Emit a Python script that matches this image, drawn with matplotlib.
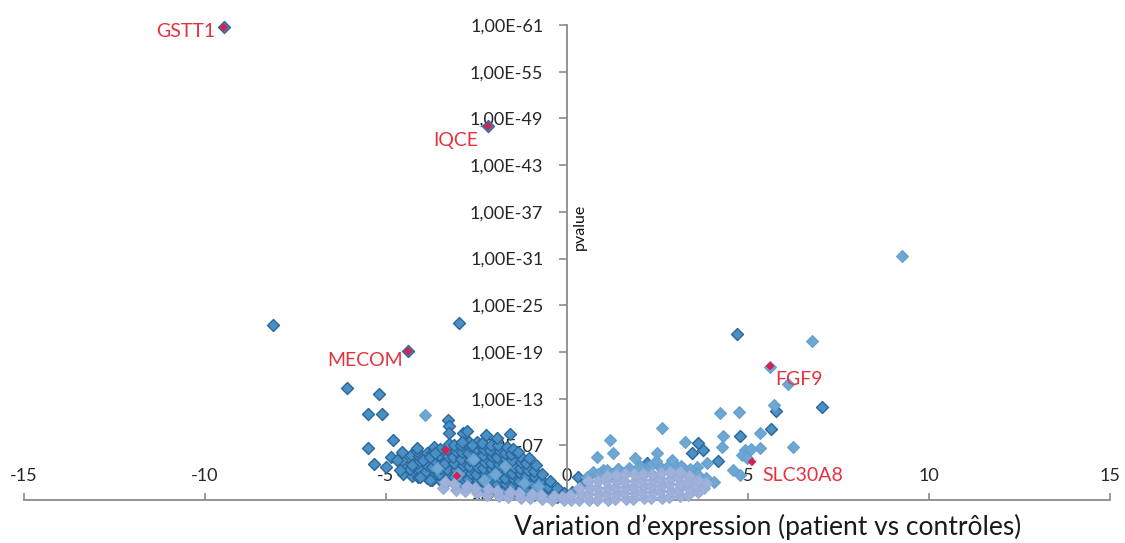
import numpy as np
import matplotlib.pyplot as plt
from matplotlib.ticker import FixedLocator, FuncFormatter, NullLocator

plt.rcParams['font.family'] = ['Lato', 'DejaVu Sans']
plt.rcParams['axes.unicode_minus'] = False

# log2 fold change (x) and -log10(pvalue) (e)
dark_x = [-9.48, -8.12, -2.18, -2.98, -4.39, -6.08, -5.19, -5.50, -5.11, -3.29,
          -3.26, -3.26, -2.87, -2.76, -2.90, -2.62, -2.24, -1.93, -1.57, -5.50,
          -4.81, -4.14, -4.56, -4.86, -4.70, -5.33, -5.00, -4.61, -4.28, -3.98,
          -3.78, -3.65, -4.06, -3.78,
          4.70, 5.77, 7.04, 5.64, 4.78, 3.45, 3.76, 4.17, 2.21, 3.67, 0.30, 3.62,
          0.15, 0.45]
dark_e = [60.7, 22.5, 48.0, 22.7, 19.1, 14.4, 13.6, 11.0, 11.0, 10.3,
          9.5, 8.6, 8.6, 8.9, 7.4, 7.1, 8.3, 8.0, 8.5, 6.7,
          7.7, 6.7, 6.2, 5.5, 5.1, 4.6, 4.2, 3.9, 4.5, 5.1,
          5.5, 6.0, 3.0, 2.6,
          21.3, 11.4, 11.9, 9.1, 8.2, 6.0, 6.4, 5.0, 4.7, 2.6, 3.0, 7.3,
          1.0, 2.2]

# dense left wing (dark edged diamonds), one column per group
blob_x = [[-4.52, -4.46, -4.55],
          [-4.27, -4.34, -4.24, -4.31],
          [-4.12, -4.05, -4.15, -4.08, -4.13],
          [-3.86, -3.93, -3.88, -3.95, -3.87],
          [-3.72, -3.66, -3.74, -3.68, -3.73, -3.67],
          [-3.47, -3.54, -3.49, -3.45, -3.53, -3.50],
          [-3.33, -3.27, -3.31, -3.36, -3.28, -3.32, -3.26],
          [-3.08, -3.13, -3.06, -3.11, -3.14, -3.07, -3.12],
          [-2.93, -2.87, -2.91, -2.86, -2.94, -2.89, -2.92, -2.88],
          [-2.68, -2.73, -2.66, -2.72, -2.69, -2.74, -2.67, -2.71],
          [-2.53, -2.47, -2.51, -2.46, -2.54, -2.49, -2.52, -2.48],
          [-2.28, -2.33, -2.27, -2.31, -2.26, -2.32, -2.29, -2.34],
          [-2.12, -2.07, -2.13, -2.08, -2.11, -2.06, -2.14, -2.09],
          [-1.88, -1.93, -1.87, -1.92, -1.89, -1.94, -1.86, -1.91],
          [-1.73, -1.68, -1.72, -1.66, -1.74, -1.69, -1.71, -1.67],
          [-1.48, -1.53, -1.47, -1.52, -1.46, -1.51, -1.54, -1.49],
          [-1.32, -1.27, -1.33, -1.28, -1.31, -1.26, -1.29, -1.34],
          [-1.08, -1.13, -1.07, -1.12, -1.09, -1.14, -1.06],
          [-0.92, -0.87, -0.93, -0.88, -0.91, -0.86],
          [-0.68, -0.73, -0.67, -0.72, -0.69],
          [-0.52, -0.47, -0.53, -0.48],
          [-0.28, -0.33, -0.27],
          [-0.12, -0.08]]
blob_e = [[3.4, 4.3, 5.2],
          [3.1, 4.0, 4.9, 5.8],
          [3.0, 3.8, 4.7, 5.6, 6.3],
          [2.8, 3.6, 4.5, 5.3, 6.1],
          [2.6, 3.5, 4.3, 5.2, 6.0, 6.8],
          [2.5, 3.3, 4.1, 5.0, 5.8, 6.6],
          [2.3, 3.1, 4.0, 4.8, 5.6, 6.5, 7.2],
          [2.2, 3.0, 3.8, 4.7, 5.5, 6.3, 7.1],
          [2.0, 2.8, 3.7, 4.5, 5.3, 6.2, 7.0, 7.6],
          [1.9, 2.7, 3.5, 4.4, 5.2, 6.0, 6.9, 7.5],
          [1.8, 2.6, 3.4, 4.2, 5.1, 5.9, 6.7, 7.4],
          [1.6, 2.4, 3.3, 4.1, 4.9, 5.8, 6.6, 7.3],
          [1.5, 2.3, 3.1, 4.0, 4.8, 5.6, 6.4, 7.1],
          [1.3, 2.1, 3.0, 3.8, 4.6, 5.5, 6.3, 7.0],
          [1.2, 2.0, 2.8, 3.7, 4.5, 5.3, 6.1, 6.8],
          [1.0, 1.8, 2.7, 3.5, 4.3, 5.1, 5.9, 6.5],
          [0.9, 1.7, 2.5, 3.3, 4.1, 4.9, 5.7, 6.2],
          [0.8, 1.5, 2.3, 3.1, 3.9, 4.7, 5.4],
          [0.7, 1.4, 2.1, 2.9, 3.7, 4.5],
          [0.6, 1.2, 1.9, 2.6, 3.4],
          [0.5, 1.1, 1.7, 2.4],
          [0.4, 1.0, 1.6],
          [0.2, 0.9]]

light_x = [-3.92, 9.25, 6.77, 5.61, 6.10, 4.23, 4.75, 5.72, 2.62, 4.31,
           5.33, 6.24, 1.19, 1.27, 3.26, 4.28, 4.92, 5.33, 4.83, 4.97,
           3.87, 4.59, 4.78, 2.49, 0.83, 1.88, 2.57, 2.93, 3.20, 3.45,
           0.72, 1.00, 1.42, 2.03, 3.03, 3.58, 5.08,
           0.55, 0.85, 1.10, 1.40, 1.70, 2.00, 2.30, 2.45, 2.75, 2.90,
           3.15, 3.40, 3.60, 3.85, 1.55, 2.20, 3.00, 1.25, 4.05,
           -3.00, -2.30, -1.70, -1.20, -2.60, -3.60, -0.80, -2.00]
light_e = [10.9, 31.3, 20.4, 17.1, 14.9, 11.2, 11.3, 12.2, 9.2, 8.2,
           8.6, 6.8, 7.7, 6.0, 7.4, 6.8, 6.4, 6.7, 5.8, 5.4,
           4.7, 3.9, 3.2, 6.0, 5.5, 5.4, 4.2, 4.7, 4.1, 3.5,
           3.6, 3.9, 4.0, 4.4, 4.0, 4.2, 6.5,
           3.0, 3.4, 3.9, 4.0, 4.1, 4.2, 4.4, 5.0, 4.3, 5.2,
           4.4, 4.0, 3.3, 2.8, 3.5, 3.7, 3.9, 3.4, 2.3,
           3.4, 2.6, 4.4, 2.2, 5.3, 4.1, 1.8, 3.3]

# non significant cloud near the origin
cloud_x = [[-3.42, -3.37], [-3.08, -3.13], [-2.82, -2.77], [-2.48, -2.53],
           [-2.22, -2.17], [-1.88, -1.93], [-1.62, -1.57], [-1.28, -1.33],
           [-1.02, -0.97], [-0.68, -0.73], [-0.42, -0.37], [-0.08, -0.13],
           [0.12, 0.08], [0.33, 0.38, 0.34], [0.62, 0.57, 0.63, 0.58],
           [0.83, 0.88, 0.82, 0.87], [1.12, 1.07, 1.13, 1.08, 1.11],
           [1.33, 1.38, 1.32, 1.37, 1.34], [1.62, 1.57, 1.63, 1.58, 1.61],
           [1.83, 1.88, 1.82, 1.87, 1.84], [2.12, 2.07, 2.13, 2.08, 2.11],
           [2.33, 2.38, 2.32, 2.37, 2.34], [2.62, 2.57, 2.63, 2.58, 2.61],
           [2.83, 2.88, 2.82, 2.87, 2.84], [3.12, 3.07, 3.13, 3.08, 3.11],
           [3.33, 3.38, 3.32, 3.37], [3.62, 3.57, 3.63], [3.78, 3.83]]
cloud_e = [[1.6, 2.3], [1.3, 2.0], [1.1, 1.8], [0.9, 1.6], [0.7, 1.4], [0.5, 1.2],
           [0.4, 1.0], [0.3, 0.9], [0.2, 0.8], [0.1, 0.6], [0.05, 0.5], [0.0, 0.4],
           [0.0, 0.7], [0.0, 0.8, 1.6], [0.0, 0.8, 1.6, 2.4],
           [0.0, 0.8, 1.6, 2.4], [0.0, 0.8, 1.6, 2.4, 3.1],
           [0.1, 0.9, 1.7, 2.5, 3.2], [0.1, 0.9, 1.7, 2.5, 3.3],
           [0.1, 0.9, 1.7, 2.5, 3.3], [0.2, 1.0, 1.8, 2.6, 3.4],
           [0.2, 1.0, 1.8, 2.6, 3.4], [0.3, 1.1, 1.9, 2.7, 3.5],
           [0.4, 1.2, 2.0, 2.8, 3.6], [0.5, 1.3, 2.1, 2.9, 3.6],
           [0.7, 1.5, 2.3, 3.1], [1.0, 1.8, 2.6], [1.5, 2.2]]

genes = ['GSTT1', 'IQCE', 'MECOM', 'FGF9', 'SLC30A8', '', '']
gene_x = [-9.48, -2.18, -4.39, 5.61, 5.11, -3.34, -3.04]
gene_e = [60.7, 48.0, 19.1, 17.2, 4.9, 6.4, 3.1]
# label offsets in pixels and alignment
label_dx = [-9, -10, -5, 5, 10, 0, 0]
label_dy = [-4, -14, -9, -13, -14, 0, 0]
label_ha = ['right', 'right', 'right', 'left', 'left', 'left', 'left']

yticks_exp = list(range(1, 62, 6))
xticks = [-15, -10, -5, 0, 5, 10, 15]


def flatten(cols):
    return np.array([v for col in cols for v in col])


def pv(e):
    return 10.0 ** (-np.asarray(e, dtype=float))


fig = plt.figure(figsize=(11.25, 5.43), dpi=100)
ax = fig.add_axes([24 / 1125, 43 / 543, 1086 / 1125, 475 / 543])

dark_face, dark_edge = '#4890c6', '#2b679a'
ax.scatter(flatten(blob_x), pv(flatten(blob_e)), marker='D', s=37, facecolor=dark_face,
           edgecolor=dark_edge, linewidths=1.0, clip_on=False, zorder=3)
ax.scatter(dark_x, pv(dark_e), marker='D', s=37, facecolor=dark_face, edgecolor=dark_edge,
           linewidths=1.0, clip_on=False, zorder=3)
ax.scatter(light_x, pv(light_e), marker='D', s=37, facecolor='#6fa7d3', edgecolor='#64a0cf',
           linewidths=0.8, clip_on=False, zorder=4)
ax.scatter(flatten(cloud_x), pv(flatten(cloud_e)), marker='D', s=37, facecolor='#9db1da',
           edgecolor='#98acd6', linewidths=0.8, clip_on=False, zorder=5)
ax.scatter(gene_x, pv(gene_e), marker='D', s=20, facecolor='#d6204f', edgecolor='none',
           clip_on=False, zorder=6)

for name, x, e, dx, dy, ha in zip(genes, gene_x, gene_e, label_dx, label_dy, label_ha):
    if name:
        ax.annotate(name, (x, 10.0 ** -e), xytext=(dx, dy), textcoords='offset pixels',
                    ha=ha, va='center', fontsize=14, color='#e5323f', zorder=7)

ax.set_xlim(-15, 15)
ax.set_yscale('log')
ax.set_ylim(1, 1e-61)

axis_grey = '#8a8a8a'
for side in ['top', 'right']:
    ax.spines[side].set_visible(False)
ax.spines['left'].set_position(('data', 0))
ax.spines['left'].set_color(axis_grey)
ax.spines['left'].set_linewidth(1.3)
ax.spines['bottom'].set_color(axis_grey)
ax.spines['bottom'].set_linewidth(1.3)

ax.xaxis.set_major_locator(FixedLocator(xticks))
ax.xaxis.set_major_formatter(FuncFormatter(lambda v, pos: f'{v:g}'))
ax.tick_params(axis='x', direction='in', length=5, width=1.2, color=axis_grey,
               pad=-23, labelsize=13, labelcolor='#262626')

ax.yaxis.set_major_locator(FixedLocator([10.0 ** -k for k in yticks_exp]))
ax.yaxis.set_minor_locator(NullLocator())
ax.yaxis.set_major_formatter(FuncFormatter(
    lambda v, pos: '1,00E-%02d' % round(-np.log10(v))))
ax.tick_params(axis='y', direction='out', length=6, width=1.2, color=axis_grey,
               pad=11, labelsize=13, labelcolor='#262626')

fig.text(580 / 1125, 1 - 227 / 543, 'pvalue', rotation=90, ha='center', va='center',
         fontsize=11.5, color='#111111')
fig.text(768 / 1125, 1 - 527 / 543, 'Variation d\u2019expression (patient vs contr\u00f4les)',
         ha='center', va='center', fontsize=19, color='#1a1a1a')

fig.savefig('out.png', dpi=100)
